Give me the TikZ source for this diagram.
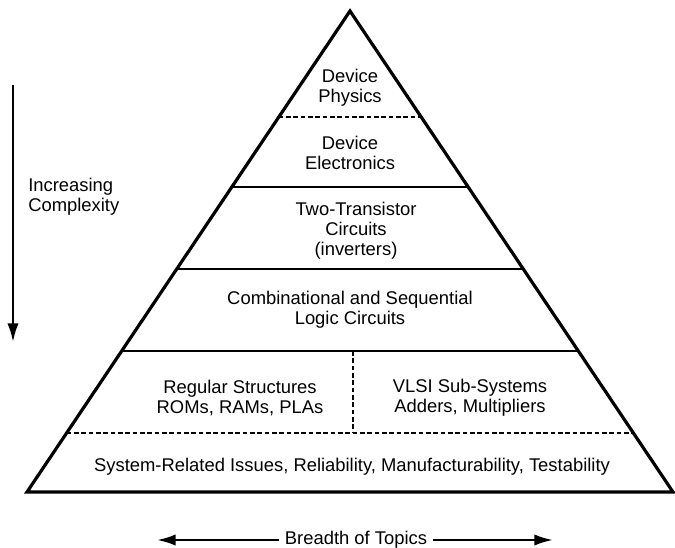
\documentclass[tikz,border=0pt]{standalone}
\usepackage{fontspec}
\setmainfont{Liberation Sans}
\usetikzlibrary{arrows.meta,calc}
\begin{document}
\begin{tikzpicture}[x=0.75pt,y=-0.75pt,
  outline/.style={line width=2.4pt, line join=miter},
  divider/.style={line width=1.6pt},
  dashdiv/.style={line width=1.5pt, dash pattern=on 3.5pt off 2pt},
  lbl/.style={align=center, font=\fontsize{13.8}{15}\selectfont, inner sep=0pt},
  axis/.style={line width=1.8pt, -{Latex[length=14pt,width=8.5pt]}}]
\useasboundingbox (0,0) rectangle (675,547);
% pyramid
\coordinate (A) at (350,11);
\coordinate (BL) at (27,492);
\coordinate (BR) at (673,492);
\draw[outline] (BL) -- (A) -- (BR) -- cycle;
% level boundaries
\coordinate (l1) at ($(A)!0.2204!(BL)$); \coordinate (r1) at ($(A)!0.2204!(BR)$);
\coordinate (l2) at ($(A)!0.3659!(BL)$); \coordinate (r2) at ($(A)!0.3659!(BR)$);
\coordinate (l3) at ($(A)!0.5364!(BL)$); \coordinate (r3) at ($(A)!0.5364!(BR)$);
\coordinate (l4) at ($(A)!0.7069!(BL)$); \coordinate (r4) at ($(A)!0.7069!(BR)$);
\coordinate (l5) at ($(A)!0.8773!(BL)$); \coordinate (r5) at ($(A)!0.8773!(BR)$);
\draw[dashdiv] (l1) -- (r1);
\draw[divider] (l2) -- (r2);
\draw[divider] (l3) -- (r3);
\draw[divider] (l4) -- (r4);
\draw[dashdiv] (l5) -- (r5);
\coordinate (vt) at (353,351);
\coordinate (vb) at (353,433);
\draw[dashdiv] (vt) -- (vb);
% labels
\node[lbl] (phys) at (350,88) {Device\\Physics};
\node[lbl] (elec) at (350,153) {Device\\Electronics};
\node[lbl] (two) at (356,231) {Two-Transistor\\Circuits\\(inverters)};
\node[lbl] (comb) at (350,310) {Combinational and Sequential\\Logic Circuits};
\node[lbl] (reg) at (240,398) {Regular Structures\\ROMs, RAMs, PLAs};
\node[lbl] (vlsi) at (470,398) {VLSI Sub-Systems\\Adders, Multipliers};
\node[lbl] (sys) at (352,467) {System-Related Issues, Reliability, Manufacturability, Testability};
% complexity arrow
\coordinate (ct) at (13,85);
\coordinate (cb) at (13,342);
\draw[axis] (ct) -- (cb);
\node[lbl, align=left, anchor=west] (cx) at (28,197) {Increasing\\Complexity};
% breadth arrow
\node[lbl, inner xsep=4.5pt] (br) at (356,540) {Breadth of Topics};
\coordinate (bl) at (157,540);
\coordinate (brr) at (553,540);
\draw[axis] (br) -- (bl);
\draw[axis] (br) -- (brr);
\end{tikzpicture}
\end{document}
